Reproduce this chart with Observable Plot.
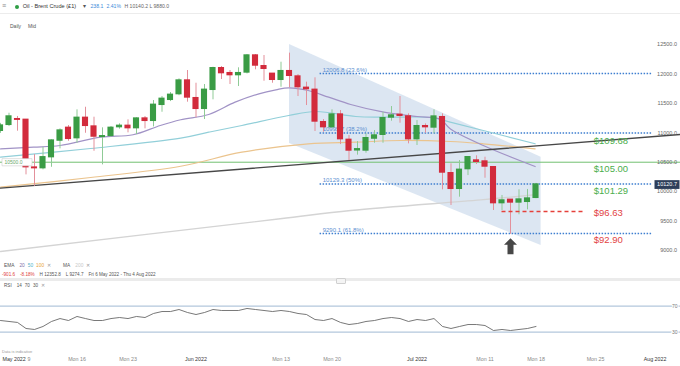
<!DOCTYPE html>
<html><head><meta charset="utf-8">
<script src="https://cdn.jsdelivr.net/npm/d3@7"></script>
<script src="https://cdn.jsdelivr.net/npm/@observablehq/plot@0.6"></script>
<style>
body{margin:0;background:#fff;font-family:"Liberation Sans",Arial,sans-serif;}
#wrap{position:relative;width:680px;height:366px;overflow:hidden;background:#fff;}
.abs{position:absolute;white-space:nowrap;line-height:1;}
.row span{margin-right:5px;}
#price,#rsi{position:absolute;left:0;}
#price{top:0;}
#rsi{top:262px;}
svg{overflow:visible;}
</style></head><body>
<div id="wrap">
  <div id="price"></div>
  <div id="rsi"></div>
  <div class="abs" style="left:0;top:13px;width:680px;height:1px;background:#ececec"></div>
  <div class="abs" style="left:2px;top:2px;font-size:7px;color:#888">≡</div>
  <div class="abs" style="left:15px;top:4.6px;width:4px;height:4px;border-radius:2px;background:#2e9e44"></div>
  <div class="abs" style="left:22.7px;top:4px;font-size:5.6px;color:#333">Oil - Brent Crude (£1)</div>
  <div class="abs" style="left:83px;top:4px;font-size:5.6px;color:#555">▾</div>
  <div class="abs" style="left:90.5px;top:4.3px;font-size:5.1px;color:#3b8ad9">238.1</div>
  <div class="abs" style="left:106.5px;top:4.3px;font-size:5.1px;color:#3b8ad9">2.41%</div>
  <div class="abs" style="left:124.5px;top:4.3px;font-size:5.1px;color:#666">H 10140.2 L 9880.0</div>
  <div class="abs" style="left:10px;top:24.2px;font-size:5px;color:#555">Daily</div>
  <div class="abs" style="left:28px;top:24.2px;font-size:5px;color:#555">Mid</div>
  <div class="abs row" style="left:4px;top:263.6px;font-size:4.8px;color:#555"><span>EMA</span><span style="color:#7f72a8;margin-right:3px">20</span><span style="color:#4fb3c8;margin-right:3px">50</span><span style="color:#e8a33d;margin-right:3px">100</span><span style="color:#999;margin-right:12px">✕</span><span>MA</span><span style="color:#c8c8c8;margin-right:3px">200</span><span style="color:#999">✕</span></div>
  <div class="abs row" style="left:2px;top:272.6px;font-size:4.6px;color:#555"><span style="color:#e0403c">-901.6</span><span style="color:#e0403c">-8.18%</span><span>H 12352.8</span><span>L 9274.7</span><span>Fri 6 May 2022 - Thu 4 Aug 2022</span></div>
  <div class="abs" style="left:0;top:278px;width:680px;height:3px;background:#ebebeb"></div>
  <div class="abs" style="left:336px;top:277.5px;width:8px;height:4px;border-radius:1px;background:#f4f4f4;border:0.5px solid #d0d0d0"></div>
  <div class="abs row" style="left:4px;top:283.8px;font-size:4.6px;color:#555"><span>RSI</span><span style="margin-right:3px">14</span><span style="margin-right:3px">70</span><span style="margin-right:3px">30</span><span style="color:#999">✕</span></div>
  <div class="abs" style="left:2px;top:350px;font-size:4px;color:#999">Data is indicative</div>
</div>
<script>
// ---- candle data (index = trading session from Thu 5 May 2022) ----
const openP  = [11022,11123,11231,11220,10409,10387,10574,10856,11084,10897,11254,11106,10919,10936,11084,11118,11067,11242,11191,11463,11548,11645,11888,11588,11395,11718,12097,12013,11968,12013,12313,12131,12002,11888,12047,11956,11764,11730,11180,11084,11310,10880,10690,10687,10890,10954,11248,11305,11277,10880,11112,11078,11265,10313,10036,10371,10529,10512,10415,9793,9861,9804,9815,9883];
const highP  = [11160,11332,11277,11225,10630,10754,10880,11067,11123,11390,11434,11265,11084,11106,11152,11220,11254,11276,11548,11616,11684,11917,12058,11842,11820,12114,12126,12058,12104,12330,12330,12313,12002,12199,12353,11990,11860,11934,11225,11390,11378,10954,10850,10982,11038,11350,11446,11616,11322,11208,11152,11390,11322,10473,10529,10597,10609,10585,10427,9935,9861,10031,10037,10140];
const lowP   = [10990,11106,11027,10285,10091,10370,10414,10727,10856,10822,10992,10686,10455,10924,11061,10999,10970,11067,11100,11349,11530,11630,11520,11254,11225,11560,11905,11820,11786,12000,12070,11876,11842,11774,11764,11616,11463,11022,11010,11070,10800,10528,10620,10653,10823,10823,11197,11163,10812,10784,10993,10983,10031,9765,9906,10273,10461,10228,9680,9680,9275,9607,9691,9880];
const closeP = [11123,11277,11210,10404,10387,10584,10868,11038,10885,11254,11106,10924,10941,11084,11118,11067,11242,11191,11475,11577,11645,11888,11588,11395,11730,12097,12002,11968,12013,12313,12131,12075,11888,12047,11956,11764,11730,11180,11084,11310,10880,10687,10720,10908,10954,11248,11294,11277,10880,11112,11084,11276,10313,10036,10371,10585,10495,10415,9793,9850,9804,9866,9883,10121];

// ---- moving averages: [session index, value] ----
const ema20  = [[0,10728],[3.9,10755],[7,10784],[11.8,10925],[15.6,10966],[18.8,11124],[21.2,11221],[24.5,11311],[27.6,11520],[30.4,11662],[32.4,11730],[33.9,11764],[36.2,11718],[38.6,11605],[41.2,11481],[45.1,11350],[49,11277],[51.8,11226],[52.9,11068],[56.8,10784],[62.9,10427]];
const ema50  = [[0,10585],[10.6,10733],[21.2,10908],[24.5,11010],[28.4,11124],[33.9,11294],[37.1,11362],[41.8,11277],[45.1,11265],[50.9,11255],[52.9,11180],[56.8,11039],[62.9,10813]];
const ema100 = [[0,10076],[10.6,10240],[21.2,10432],[28.4,10670],[36.2,10813],[41.8,10840],[47.1,10869],[52.9,10852],[56.8,10813],[62.9,10728]];
const ma200  = [[0,8983],[32.9,9539],[41.2,9680],[56.5,9861],[62.9,9946]];
const trendLine = [[0,10059],[80,10971]];

// ---- descending channel: [session index, upper, lower] ----
const channel = [[34,12500,10818],[63.6,10585,9085]];

// ---- levels ----
const fibLevels = [12006.8, 10995.7, 10129.3, 9290.1];
const fibNames  = ["23.6%","38.2%","50%","61.8%"];
const fibStartIdx = 37.6, fibEndIdx = 76.7;
const supportLevel = 10500;
const dashLevel = 9663, dashStartIdx = 59, dashEndIdx = 68.8;
const priceLabelText  = ["$109.68","$105.00","$101.29","$96.63","$92.90"];
const priceLabelValue = [10968, 10500, 10129, 9663, 9290];
const priceLabelUp    = [true, true, true, false, false];
const priceLabelIdx = 69.8;
const arrowIdx = 60;
const lastClose = 10120.7;

// ---- RSI(14), one per session ----
const rsi = [48,46.5,45,35.7,34.2,38.8,46.5,51,48,54.2,51,48,48,51,52.6,51,54.2,52.6,58.8,61.8,61.8,64.9,60.3,57.2,60.3,64.9,63.4,63.4,63.4,66.5,64.9,63.4,61.8,63.4,61.8,58.8,57.2,49.5,48,51,45,41.8,43.4,46.5,48,51,52.6,51,46.5,49.5,48,51,38.8,35.7,38.8,41.8,41.8,40.3,32.6,34.2,32.6,34.2,35.7,38.8];
const rsiLevels = [70, 30];

// ---- axis ticks ----
const priceTicks = [9000,9500,10000,10500,11000,11500,12000,12500];
const firstWeekTick = [3], firstWeekLabel = "9";
const weekTicks  = [9, 15, 33, 39, 57, 63, 70];
const weekLabels = ["Mon 16","Mon 23","Mon 13","Mon 20","Mon 11","Mon 18","Mon 25"];
const monthTicks  = [23, 49, 77];
const monthLabels = ["Jun 2022","Jul 2022","Aug 2022"];
const firstMonthLabel = "May 2022";

// ---------------------------------------------------------------
const UP = "#3a9c45", DOWN = "#d22b3c";
const font = "Liberation Sans, Arial, sans-serif";
const candles = openP.map((o, i) => ({i, o, h: highP[i], l: lowP[i], c: closeP[i], up: closeP[i] >= o}));
const pts = arr => arr.map(([i, v]) => ({i, v}));
const rectSym = (w, h) => ({draw(ctx){ctx.moveTo(-w,-h);ctx.lineTo(w,-h);ctx.lineTo(w,h);ctx.lineTo(-w,h);ctx.closePath();}});
const arrowSym = {draw(ctx){ctx.moveTo(0,-8);ctx.lineTo(6.5,-1.5);ctx.lineTo(3,-1.5);ctx.lineTo(3,8);ctx.lineTo(-3,8);ctx.lineTo(-3,-1.5);ctx.lineTo(-6.5,-1.5);ctx.closePath();}};
const fibData = fibLevels.map((v, k) => ({v, name: fibNames[k]}));
const labels = priceLabelText.map((t, k) => ({t, v: priceLabelValue[k], up: priceLabelUp[k]}));
const labelsBelow = labels.filter(d => d.v !== dashLevel);
const labelsInline = labels.filter(d => d.v === dashLevel);

const price = Plot.plot({
  width: 680, height: 262,
  marginLeft: 0, marginRight: 0, marginTop: 0, marginBottom: 0,
  x: {domain: [0, 80], range: [0, 680], axis: null},
  y: {domain: [9000, 12500], range: [250, 44]},
  style: {fontFamily: font, fontSize: "5.5px", color: "#555", background: "transparent", overflow: "visible"},
  marks: [
    Plot.areaY(channel.map(([i, a, b]) => ({i, a, b})), {x: "i", y1: "b", y2: "a", fill: "#d6e2f0", fillOpacity: 0.85}),
    Plot.ruleY(fibData, {y: "v", x1: () => fibStartIdx, x2: () => fibEndIdx, stroke: "#3f7fd0", strokeWidth: 1.5, strokeDasharray: "1.5,1.5"}),
    Plot.text(fibData, {y: "v", x: () => fibStartIdx + 0.3, text: d => `${d.v.toFixed(1)} (${d.name})`, textAnchor: "start", dy: -3.5, fill: "#5b8fd1", fontSize: 6}),
    Plot.ruleY([supportLevel], {stroke: "#72c070", strokeWidth: 1}),
    Plot.line(pts(ma200), {x: "i", y: "v", stroke: "#d4d4d4", strokeWidth: 1.4, curve: "catmull-rom"}),
    Plot.line(pts(ema100), {x: "i", y: "v", stroke: "#ebc48e", strokeWidth: 1.2, curve: "catmull-rom"}),
    Plot.line(pts(ema50), {x: "i", y: "v", stroke: "#92cfd9", strokeWidth: 1.2, curve: "catmull-rom"}),
    Plot.line(pts(ema20), {x: "i", y: "v", stroke: "#a193c6", strokeWidth: 1.2, curve: "catmull-rom"}),
    Plot.line(pts(trendLine), {x: "i", y: "v", stroke: "#474747", strokeWidth: 1.4}),
    Plot.ruleX(candles, {x: "i", y1: "l", y2: "h", stroke: d => d.up ? "#8fcb96" : "#e3909b", strokeWidth: 1}),
    Plot.rect(candles, {x1: d => d.i - 0.36, x2: d => d.i + 0.36, y1: d => Math.min(d.o, d.c), y2: d => Math.max(d.o, d.c) + 12, fill: d => d.up ? UP : DOWN}),
    Plot.ruleY([dashLevel], {x1: () => dashStartIdx, x2: () => dashEndIdx, stroke: "#e5403a", strokeWidth: 1.3, strokeDasharray: "4,3"}),
    Plot.text(labelsBelow, {x: () => priceLabelIdx, y: "v", text: "t", textAnchor: "start", dy: 6.5, fill: d => d.up ? "#4cae4c" : "#e2433f", fontSize: 9.5}),
    Plot.text(labelsInline, {x: () => priceLabelIdx, y: "v", text: "t", textAnchor: "start", dy: 1, fill: d => d.up ? "#4cae4c" : "#e2433f", fontSize: 9.5}),
    Plot.dot([supportLevel], {y: d => d, frameAnchor: "left", dx: 16.5, symbol: rectSym(15, 3.6), fill: "white", stroke: "#cfcfcf", strokeWidth: 0.6}),
    Plot.text([supportLevel], {y: d => d, frameAnchor: "left", dx: 4, textAnchor: "start", text: d => d.toFixed(1), fill: "#6aa86a", fontSize: 5}),
    Plot.axisY({anchor: "right", ticks: priceTicks, tickFormat: d => d.toFixed(1), tickSize: 0, tickPadding: 0, dx: -3.5, textAnchor: "end", fill: "#666", fontSize: 5.5, label: null}),
    Plot.dot([lastClose], {y: d => d, frameAnchor: "right", dx: -13.5, symbol: rectSym(12.5, 4.4), fill: "#2d3e5a"}),
    Plot.text([lastClose], {y: d => d, frameAnchor: "right", dx: -3.5, textAnchor: "end", text: d => d.toFixed(1), fill: "white", fontSize: 5.5}),
    Plot.dot([arrowIdx], {x: d => d, y: d => lowP[d], dy: 12, symbol: arrowSym, fill: "#474747"})
  ]
});
document.getElementById("price").appendChild(price);

const weekMap = new Map(weekTicks.map((t, k) => [t, weekLabels[k]]));
const monthMap = new Map(monthTicks.map((t, k) => [t, monthLabels[k]]));
const rsiPlot = Plot.plot({
  width: 680, height: 104,
  marginLeft: 0, marginRight: 0, marginTop: 0, marginBottom: 12,
  x: {domain: [0, 80], range: [0, 680]},
  y: {domain: [30, 70], range: [69.7, 43.7], axis: null},
  style: {fontFamily: font, fontSize: "5.3px", color: "#555", background: "transparent", overflow: "visible"},
  marks: [
    Plot.ruleY(rsiLevels, {stroke: "#b3c7dc", strokeWidth: 1.3}),
    Plot.text(rsiLevels, {y: d => d, frameAnchor: "right", dx: -3, textAnchor: "end", text: d => String(d), fill: "#777", stroke: "white", strokeWidth: 2, fontSize: 5}),
    Plot.line(rsi.map((v, i) => ({i, v})), {x: "i", y: "v", stroke: "#555", strokeWidth: 0.8}),
    Plot.axisX({ticks: firstWeekTick, tickFormat: () => firstWeekLabel, tickSize: 0, tickPadding: 3, dx: 3, fill: "#888", fontSize: 5.3, label: null}),
    Plot.axisX({ticks: weekTicks, tickFormat: d => weekMap.get(d), tickSize: 0, tickPadding: 3, fill: "#888", fontSize: 5.3, label: null}),
    Plot.axisX({ticks: monthTicks, tickFormat: d => monthMap.get(d), tickSize: 0, tickPadding: 3, fill: "#333", fontSize: 5.3, label: null}),
    Plot.text([firstMonthLabel], {frameAnchor: "bottom-left", dx: 2, dy: 3, lineAnchor: "top", textAnchor: "start", text: d => d, fill: "#333", fontSize: 5.3})
  ]
});
document.getElementById("rsi").appendChild(rsiPlot);
</script>
</body></html>
